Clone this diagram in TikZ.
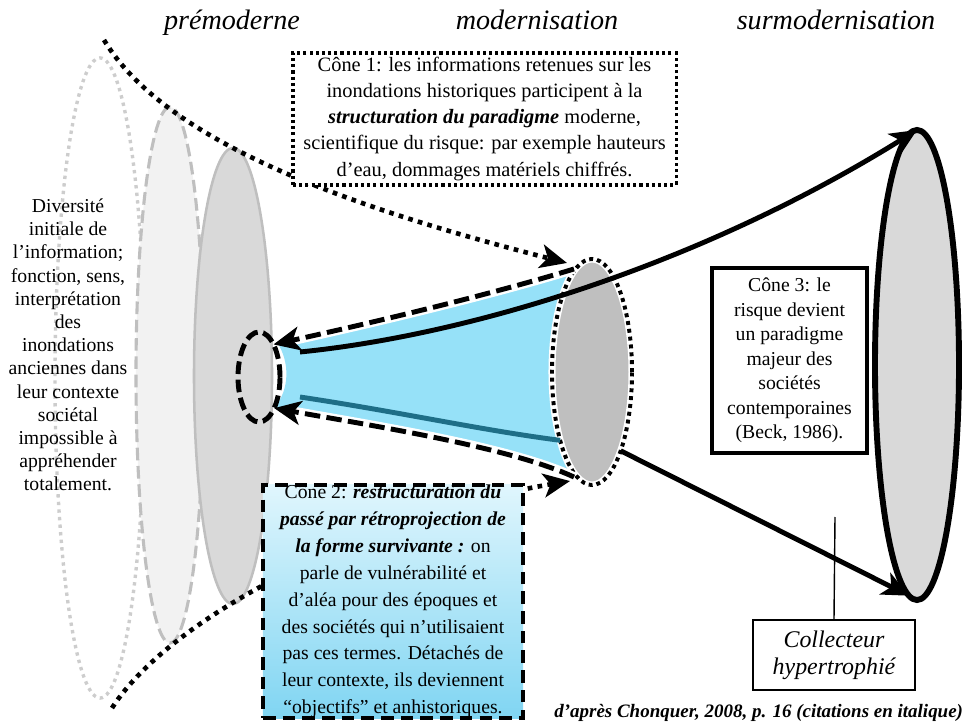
\documentclass[tikz,border=0pt]{standalone}
\usepackage{fontspec}
\setmainfont{Liberation Serif}
\usepackage{tikz}
\usetikzlibrary{arrows.meta,shapes.geometric,calc}

\begin{document}
\begin{tikzpicture}[x=0.025cm,y=-0.025cm]
    \definecolor{mygrayl}{RGB}{242,242,242}
    \definecolor{mygraym}{RGB}{217,217,217}
    \definecolor{mygrayd}{RGB}{191,191,191}
    \definecolor{mygraye}{RGB}{205,205,205}
    \definecolor{myblue}{RGB}{150,225,248}
    \definecolor{myblued}{RGB}{30,110,135}
    \definecolor{myboxt}{RGB}{224,246,253}
    \definecolor{myboxb}{RGB}{128,213,242}

    \tikzstyle{disque}=[ellipse,inner sep=0pt,outer sep=0pt]  % 圆盘
    \tikzstyle{dotline}=[line width=3.3pt,dash pattern=on 3.3pt off 3.8pt]  % 黑色点线
    \tikzstyle{fleche}=[-{Stealth[length=19pt,width=17pt,inset=5pt]}]  % 箭头
    \tikzstyle{halo}=[draw=white,line width=7pt,shorten >=10pt]  % 白边
    \tikzstyle{tirets}=[line width=3.5pt,dash pattern=on 11pt off 4.5pt]  % 虚线
    \tikzstyle{epais}=[line width=3.5pt]  % 粗线
    \tikzstyle{texte}=[align=center,font=\fontsize{14}{16.5}\selectfont]
    \tikzstyle{titre}=[anchor=base,font=\fontsize{20}{24}\selectfont\itshape]
    \tikzstyle{boite}=[rectangle,inner sep=0pt,align=center]  % 文本框

    \useasboundingbox (0,0) rectangle (973,727);

    % 左边三个灰色圆盘
    \node[disque,draw=mygraye,fill=white,line width=2.4pt,dash pattern=on 2.4pt off 3pt,
          minimum width=2.25cm,minimum height=16cm] (outerE) at (100,378) {};
    \node[disque,draw=mygrayd,fill=mygrayl,line width=2.2pt,dash pattern=on 9pt off 4pt,
          minimum width=1.7cm,minimum height=13.4cm] (dashE) at (170,375) {};
    \node[disque,draw=mygrayd,fill=mygraym,line width=1.8pt,
          minimum width=1.95cm,minimum height=11.4cm] (solidE) at (233,376) {};
    \node[texte] (gauche) at (68,345) {Diversité\\initiale de\\l'information;\\fonction, sens,\\interprétation\\des\\inondations\\anciennes dans\\leur contexte\\sociétal\\impossible à\\appréhender\\totalement.};

    % 右边的大圆盘
    \node[disque,draw=black,fill=mygraym,line width=4.2pt,
          minimum width=2.1cm,minimum height=11.75cm] (bigE) at (917,365) {};

    % 蓝色漏斗
    \fill[myblue] (277,342) .. controls (373,322) and (489,295) .. (574,269) -- (600,372)
        -- (574,477) .. controls (509,447) and (374,426) .. (274,408)
        .. controls (290,390) and (290,362) .. (277,342);

    % 中间圆盘
    \node[disque,fill=mygrayd,draw=white,line width=5pt,
          postaction={draw=black,line width=2.8pt,dash pattern=on 2.8pt off 2.8pt},
          minimum width=2cm,minimum height=5.65cm] (midE) at (592,372) {};
    \node[disque,draw=black,line width=3.5pt,dash pattern=on 9pt off 4pt,
          minimum width=1.05cm,minimum height=2.25cm] (smallE) at (259,377) {};

    \coordinate (upStart) at (300,352);
    \coordinate (lowStart) at (300,397);
    \coordinate (coneH) at (104,40);
    \coordinate (coneB) at (112,708);
    \coordinate (collTop) at (835,517);

    % 开始画线
    \draw[epais,myblued] (lowStart) .. controls (400,412) and (480,430) .. (midE.245);
    \draw[epais,fleche] (midE.290) -- (bigE.268);
    \draw[halo] ($(midE.north)+(-18,10)$) .. controls +(-85,26) and +(100,-22) .. (smallE.66);
    \draw[tirets,fleche] ($(midE.north)+(-18,10)$) .. controls +(-85,26) and +(100,-22) .. (smallE.66);
    \draw[halo] ($(midE.south)+(-18,-8)$) .. controls +(-65,-30) and +(100,18) .. (smallE.-64);
    \draw[tirets,fleche] ($(midE.south)+(-18,-8)$) .. controls +(-65,-30) and +(100,18) .. (smallE.-64);
    \draw[epais,fleche] (upStart) .. controls (470,335) and (700,265) .. (bigE.north);
    \draw[dotline,fleche] (coneH) .. controls (170,150) and (380,215) .. ($(midE.north)+(-25,4)$);
    \draw[dotline,fleche] (coneB) .. controls (175,610) and (385,512) .. ($(midE.south)+(-22,-4)$);

    % 文本框
    \node[boite,draw,fill=white,line width=2.2pt,dash pattern=on 2.2pt off 2.2pt,
          minimum width=9.575cm,minimum height=3.3cm,font=\fontsize{14.5}{18.5}\selectfont] (cone1) at (484.5,119)
        {Cône 1: les informations retenues sur les\\inondations historiques participent à la\\\textbf{\textit{structuration du paradigme}} moderne,\\scientifique du risque: par exemple hauteurs\\d'eau, dommages matériels chiffrés.};
    \node[boite,draw,top color=myboxt,bottom color=myboxb,line width=2.4pt,dash pattern=on 9pt off 5pt,
          minimum width=6.5cm,minimum height=5.825cm,font=\fontsize{14}{19.1}\selectfont] (cone2) at (393,601.5)
        {Cône 2: \textbf{\textit{restructuration du}}\\\textbf{\textit{passé par rétroprojection de}}\\\textbf{\textit{la forme survivante :}} on\\parle de vulnérabilité et\\d'aléa pour des époques et\\des sociétés qui n'utilisaient\\pas ces termes. Détachés de\\leur contexte, ils deviennent\\``objectifs'' et anhistoriques.};
    \node[boite,draw,fill=white,line width=2.2pt,
          minimum width=3.875cm,minimum height=4.625cm,font=\fontsize{14}{17.4}\selectfont] (cone3) at (789.5,360.5)
        {Cône 3: le\\risque devient\\un paradigme\\majeur des\\sociétés\\contemporaines\\(Beck, 1986).};
    \node[boite,draw,fill=white,line width=1.5pt,
          minimum width=4.05cm,minimum height=1.75cm,font=\fontsize{17}{19}\selectfont\itshape] (coll) at (834,655)
        {Collecteur\\hypertrophié};
    \draw[line width=1pt] (coll.north) -- (collTop);

    % 标题
    \node[titre] (t1) at (232,30) {prémoderne};
    \node[titre] (t2) at (537,30) {modernisation};
    \node[titre] (t3) at (836,30) {surmodernisation};
    \node[anchor=base east,font=\fontsize{13.5}{15}\selectfont\bfseries\itshape] (source) at (968,717)
        {d'après Chonquer, 2008, p. 16 (citations en italique)};
\end{tikzpicture}
\end{document}
